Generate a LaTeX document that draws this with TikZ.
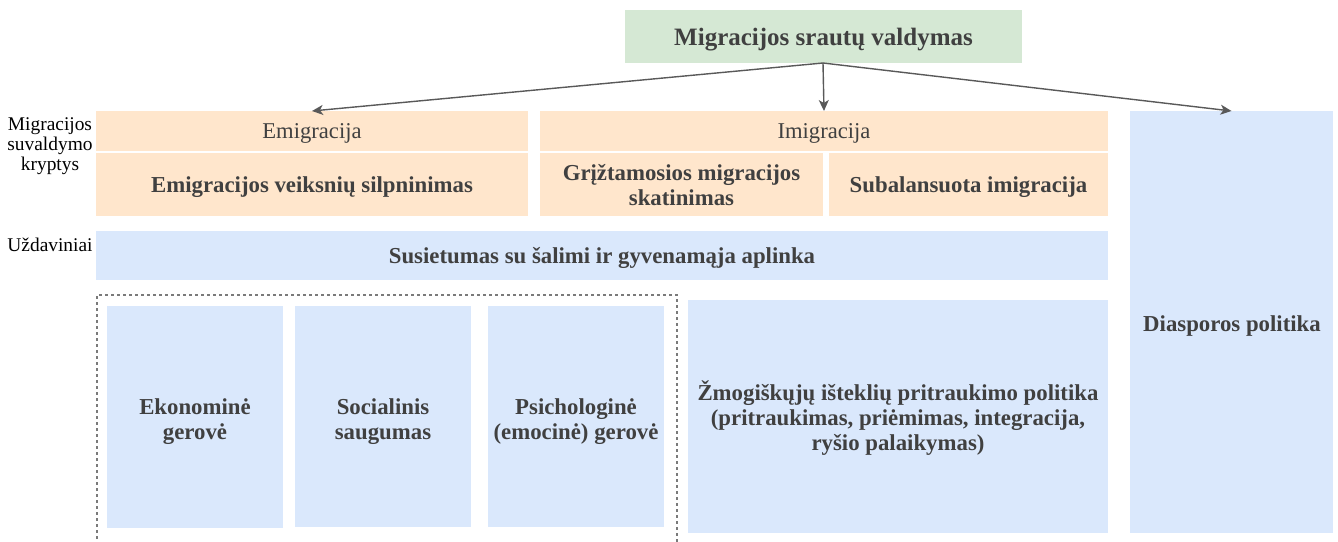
\documentclass[tikz,border=0pt]{standalone}
\usepackage{fontspec}
\setmainfont{Liberation Serif}
\usetikzlibrary{arrows.meta}
\definecolor{gfill}{HTML}{D5E8D4}
\definecolor{ofill}{HTML}{FFE6CC}
\definecolor{bfill}{HTML}{DAE8FC}
\definecolor{txt}{HTML}{404040}
\definecolor{lin}{HTML}{595959}
\tikzset{
  box/.style={rectangle, inner sep=0pt, outer sep=0pt, anchor=north west, align=center, text=txt, text depth=0pt},
  bfont/.style={font=\fontsize{22.8}{25}\selectfont\bfseries},
  tfont/.style={font=\fontsize{25}{28}\selectfont\bfseries},
  rfont/.style={font=\fontsize{22.6}{25}\selectfont},
  lbl/.style={align=center, inner sep=0pt, font=\fontsize{19.4}{20}\selectfont, text=black},
  conn/.style={draw=lin, line width=1.4pt, -{Stealth[length=11pt,width=10pt,inset=3pt]}},
  dashbox/.style={draw=lin!80, line width=1.2pt, dash pattern=on 3pt off 3pt}
}
\begin{document}
\begin{tikzpicture}[x=1pt,y=-1pt]
\useasboundingbox (0,0) rectangle (1338,541);
% title
\node[box, tfont, fill=gfill, minimum width=397pt, minimum height=53pt] (top) at (625,10) {Migracijos srautų valdymas};
% emigration
\node[box, rfont, fill=ofill, minimum width=432pt, minimum height=40pt] (emi) at (96,111) {Emigracija};
\node[box, bfont, fill=ofill, minimum width=432pt, minimum height=63pt] (emi2) at (96,153) {Emigracijos veiksnių silpninimas};
% immigration
\node[box, rfont, fill=ofill, minimum width=568pt, minimum height=40pt] (imi) at (540,111) {Imigracija};
\node[box, bfont, fill=ofill, minimum width=283pt, minimum height=63pt] (gri) at (540,153) {Grįžtamosios migracijos\\skatinimas};
\node[box, bfont, fill=ofill, minimum width=279pt, minimum height=63pt] (sub) at (829,153) {Subalansuota imigracija};
% diaspora
\node[box, fill=bfill, minimum width=203pt, minimum height=422pt] (dia) at (1130,111) {};
\node[bfont, text=txt, inner sep=0pt] (diat) at (1232,326) {Diasporos politika};
% tasks
\node[box, bfont, fill=bfill, minimum width=1012pt, minimum height=49pt] (sus) at (96,231) {Susietumas su šalimi ir gyvenamąja aplinka};
% dashed group
\draw[dashbox] (97,545) -- (97,295) -- (677,295) -- (677,545);
\node[box, fill=bfill, minimum width=176pt, minimum height=222pt] (eko) at (107,306) {};
\node[box, fill=bfill, minimum width=176pt, minimum height=221pt] (soc) at (295,306) {};
\node[box, fill=bfill, minimum width=176pt, minimum height=221pt] (psi) at (488,306) {};
\node[bfont, align=center, text=txt, inner sep=0pt] (ekot) at (195,422) {Ekonominė\\gerovė};
\node[bfont, align=center, text=txt, inner sep=0pt] (soct) at (383,422) {Socialinis\\saugumas};
\node[bfont, align=center, text=txt, inner sep=0pt] (psit) at (576,422) {Psichologinė\\(emocinė) gerovė};
\node[box, fill=bfill, minimum width=420pt, minimum height=233pt] (zmo) at (688,300) {};
\node[bfont, align=center, text=txt, inner sep=0pt] (zmot) at (898,418) {Žmogiškųjų išteklių pritraukimo politika\\(pritraukimas, priėmimas, integracija,\\ryšio palaikymas)};
% left labels
\node[lbl] (lab1) at (50,146) {Migracijos\\suvaldymo\\kryptys};
\node[lbl] (lab2) at (50,245) {Uždaviniai};
% arrows
\coordinate (src) at (823,63);
\draw[conn] (src) -- (emi.north);
\draw[conn] (src) -- (imi.north);
\draw[conn] (src) -- (dia.north);
\end{tikzpicture}
\end{document}
